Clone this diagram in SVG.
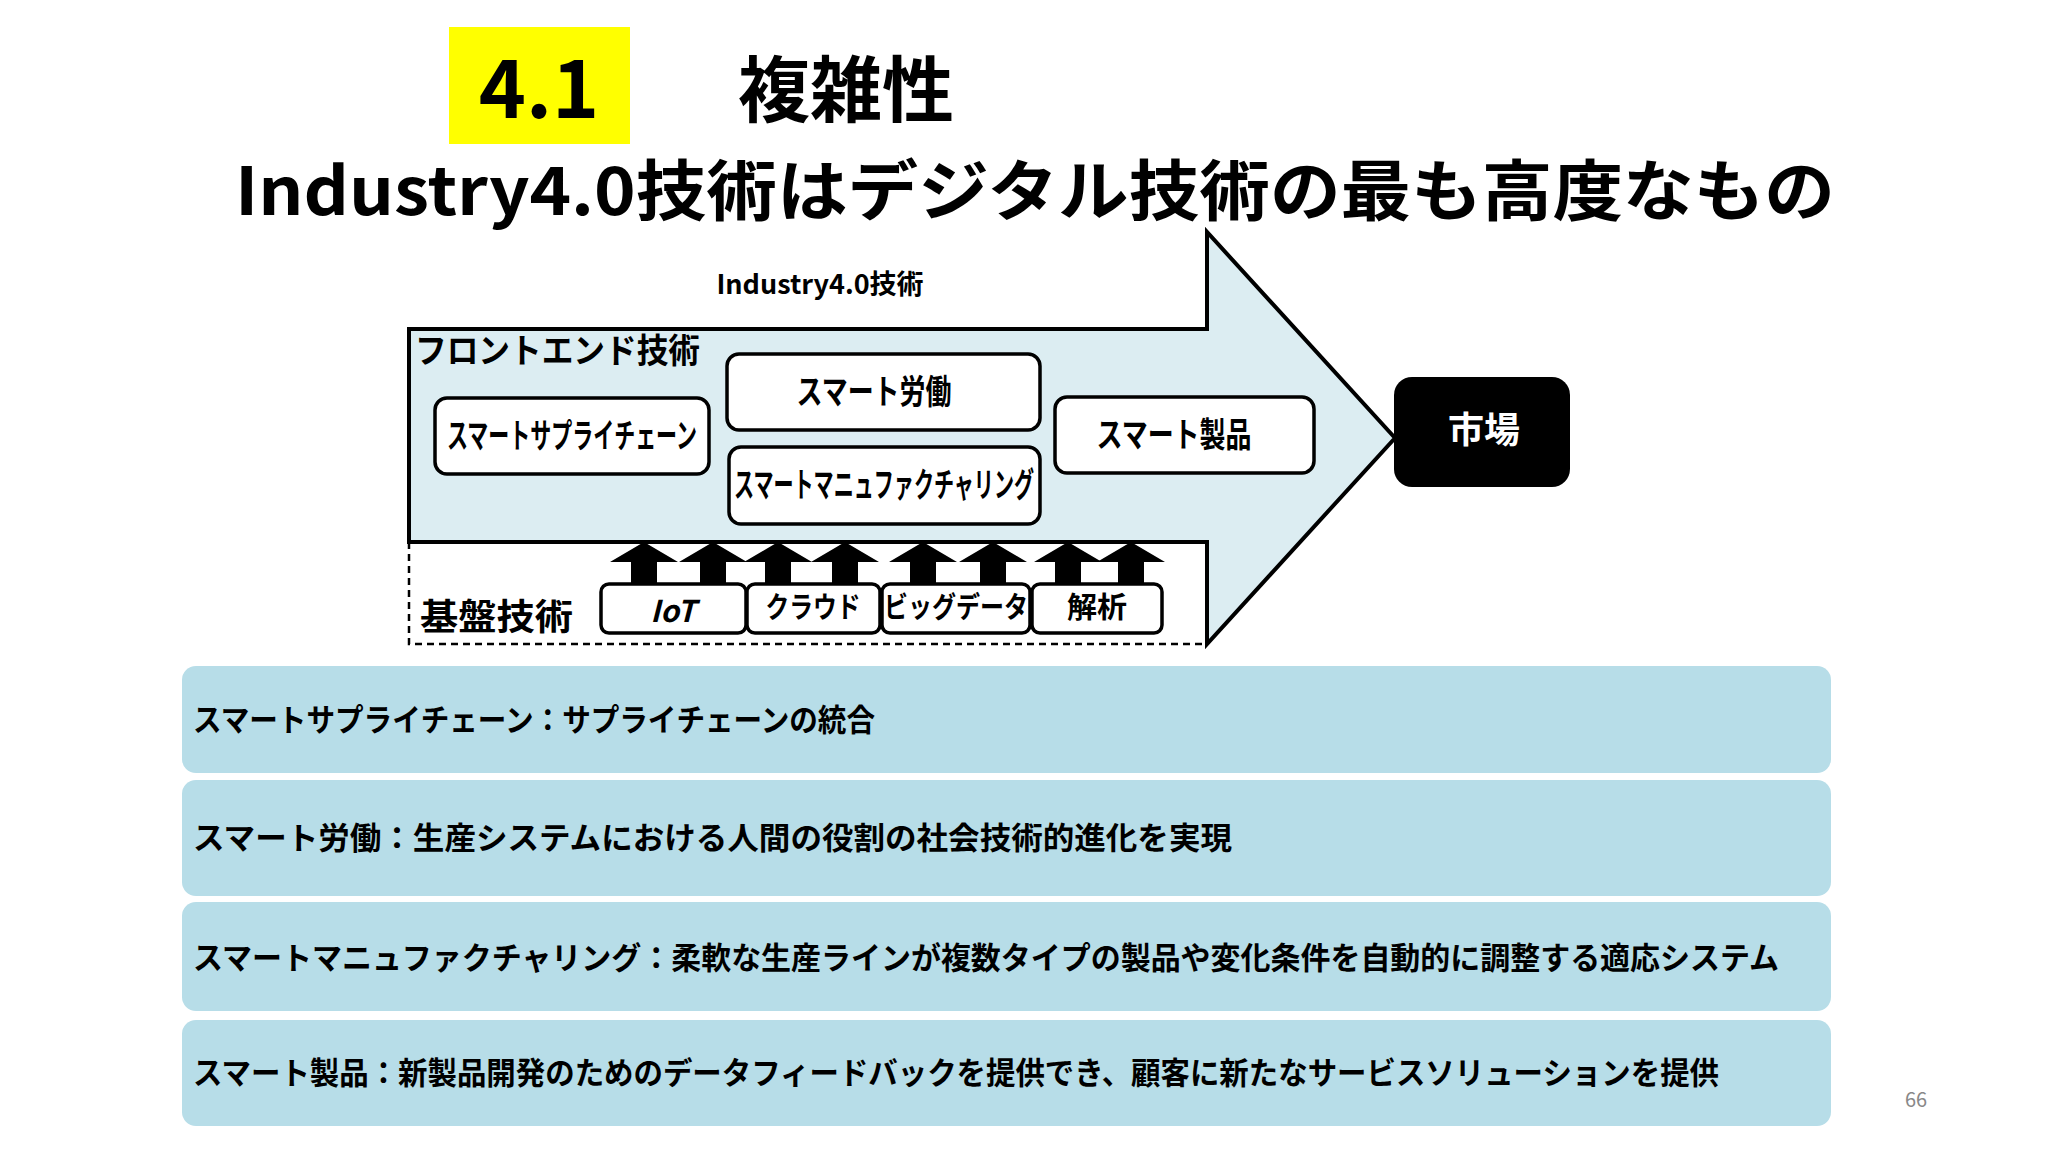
<svg xmlns="http://www.w3.org/2000/svg" width="2048" height="1152" viewBox="0 0 2048 1152">
<style>
text{font-family:"Noto Sans CJK JP","Noto Sans",sans-serif;font-weight:bold;fill:#000}
.box{fill:#fff;stroke:#000;stroke-width:3.5}
.bar{fill:#b7dde8}
.bt{font-size:31px}
.bx{font-size:34px}
</style>
<defs>
<path id="up" d="M-34,20 L0,0 L34,20 L13,20 L13,42 L-13,42 L-13,20 Z" fill="#000"/>
</defs>
<rect width="2048" height="1152" fill="#fff"/>
<g id="title">
<rect x="449" y="27" width="181" height="117" fill="#ffff00"/>
<text x="539" y="118" font-size="80" text-anchor="middle" font-family="Noto Sans">4.1</text>
<text x="738" y="116" font-size="72">複雑性</text>
<text x="235" y="215" font-size="66" textLength="1600" lengthAdjust="spacingAndGlyphs">Industry4.0技術はデジタル技術の最も高度なもの</text>
</g>
<g id="base">
<path d="M409,542 L409,644 L1207,644" fill="#fff" stroke="#000" stroke-width="2.5" stroke-dasharray="7,5"/>
</g>
<g id="arrow">
<path d="M409,329 L1207,329 L1207,232 L1395,438 L1207,644 L1207,542 L409,542 Z" fill="#dcedf2" stroke="#000" stroke-width="4"/>
</g>
<text x="820" y="294" font-size="27" text-anchor="middle" font-family="Noto Sans">Industry4.0技術</text>
<text x="415" y="363" font-size="34" textLength="285" lengthAdjust="spacingAndGlyphs">フロントエンド技術</text>
<text x="420" y="630" font-size="36" textLength="153" lengthAdjust="spacingAndGlyphs">基盤技術</text>
<g id="n1"><rect class="box" x="435" y="398" width="274" height="76" rx="12"/><text class="bx" x="572" y="448" text-anchor="middle" textLength="250" lengthAdjust="spacingAndGlyphs">スマートサプライチェーン</text></g>
<g id="n2"><rect class="box" x="727" y="354" width="313" height="76" rx="12"/><text class="bx" x="874" y="404" text-anchor="middle" textLength="155" lengthAdjust="spacingAndGlyphs">スマート労働</text></g>
<g id="n3"><rect class="box" x="729" y="447" width="311" height="77" rx="12"/><text class="bx" x="884" y="497" text-anchor="middle" textLength="300" lengthAdjust="spacingAndGlyphs">スマートマニュファクチャリング</text></g>
<g id="n4"><rect class="box" x="1055" y="397" width="259" height="76" rx="12"/><text class="bx" x="1174" y="447" text-anchor="middle" textLength="155" lengthAdjust="spacingAndGlyphs">スマート製品</text></g>
<g id="market"><rect x="1394" y="377" width="176" height="110" rx="18" fill="#000"/><text x="1484" y="443" font-size="36" text-anchor="middle" style="fill:#fff">市場</text></g>
<g id="connectors">
<use href="#up" x="644" y="542"/><use href="#up" x="713" y="542"/>
<use href="#up" x="778" y="542"/><use href="#up" x="845" y="542"/>
<use href="#up" x="923" y="542"/><use href="#up" x="993" y="542"/>
<use href="#up" x="1068" y="542"/><use href="#up" x="1131" y="542"/>
</g>
<g id="iot"><rect class="box" x="601" y="584" width="145" height="49" rx="8"/><text x="673" y="622" font-size="30" font-style="italic" text-anchor="middle">IoT</text></g>
<g id="cloud"><rect class="box" x="747" y="584" width="133" height="49" rx="8"/><text x="813" y="618" font-size="29" text-anchor="middle" textLength="95" lengthAdjust="spacingAndGlyphs">クラウド</text></g>
<g id="bigdata"><rect class="box" x="882" y="584" width="148" height="49" rx="8"/><text x="956" y="618" font-size="29" text-anchor="middle" textLength="144" lengthAdjust="spacingAndGlyphs">ビッグデータ</text></g>
<g id="analysis"><rect class="box" x="1032" y="584" width="130" height="49" rx="8"/><text x="1097" y="618" font-size="29" text-anchor="middle" textLength="60" lengthAdjust="spacingAndGlyphs">解析</text></g>
<g id="r1"><rect class="bar" x="182" y="666" width="1649" height="107" rx="14"/><text class="bt" x="193" y="731" textLength="682" lengthAdjust="spacingAndGlyphs">スマートサプライチェーン：サプライチェーンの統合</text></g>
<g id="r2"><rect class="bar" x="182" y="780" width="1649" height="116" rx="14"/><text class="bt" x="193" y="849" textLength="1039" lengthAdjust="spacingAndGlyphs">スマート労働：生産システムにおける人間の役割の社会技術的進化を実現</text></g>
<g id="r3"><rect class="bar" x="182" y="902" width="1649" height="109" rx="14"/><text class="bt" x="193" y="969" textLength="1586" lengthAdjust="spacingAndGlyphs">スマートマニュファクチャリング：柔軟な生産ラインが複数タイプの製品や変化条件を自動的に調整する適応システム</text></g>
<g id="r4"><rect class="bar" x="182" y="1020" width="1649" height="106" rx="14"/><text class="bt" x="193" y="1084" textLength="1526" lengthAdjust="spacingAndGlyphs">スマート製品：新製品開発のためのデータフィードバックを提供でき、顧客に新たなサービスソリューションを提供</text></g>
<text x="1916" y="1107" font-size="20" text-anchor="middle" style="fill:#888;font-weight:normal">66</text>
</svg>
